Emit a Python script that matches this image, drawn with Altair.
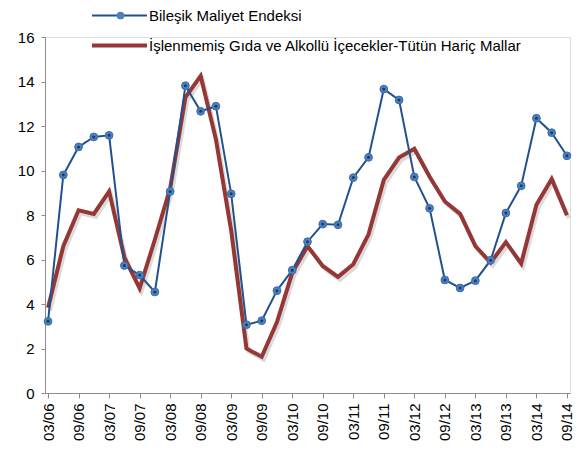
import altair as alt
import pandas as pd

quarters = ["03/06", "06/06", "09/06", "12/06", "03/07", "06/07", "09/07", "12/07",
            "03/08", "06/08", "09/08", "12/08", "03/09", "06/09", "09/09", "12/09",
            "03/10", "06/10", "09/10", "12/10", "03/11", "06/11", "09/11", "12/11",
            "03/12", "06/12", "09/12", "12/12", "03/13", "06/13", "09/13", "12/13",
            "03/14", "06/14", "09/14"]

bilesik = [3.22, 9.80, 11.06, 11.51, 11.58, 5.73, 5.30, 4.54, 9.06, 13.81, 12.66, 12.89,
           8.95, 3.07, 3.25, 4.60, 5.52, 6.80, 7.59, 7.56, 9.68, 10.59, 13.66, 13.17,
           9.71, 8.30, 5.08, 4.72, 5.05, 5.97, 8.09, 9.31, 12.35, 11.70, 10.66]

islenmemis = [3.83, 6.60, 8.21, 8.05, 9.06, 6.10, 4.70, 6.90, 9.20, 13.29, 14.25, 11.40,
              7.30, 2.00, 1.63, 3.19, 5.40, 6.60, 5.71, 5.22, 5.79, 7.13, 9.58, 10.58,
              10.98, 9.72, 8.61, 8.05, 6.60, 5.86, 6.78, 5.82, 8.46, 9.62, 7.99]

names = ["Bileşik Maliyet Endeksi",
         "İşlenmemiş Gıda ve Alkollü İçecekler-Tütün Hariç Mallar"]
colors = ["#23518f", "#953735"]
y_ticks = [0, 2, 4, 6, 8, 10, 12, 14, 16]

rows = []
for i, q in enumerate(quarters):
    rows.append({"idx": i, "q": q, "series": names[0], "value": bilesik[i]})
    rows.append({"idx": i, "q": q, "series": names[1], "value": islenmemis[i]})
df = pd.DataFrame(rows)

FONT = "Liberation Sans"
label_arr = "[" + ",".join("'" + q + "'" for q in quarters) + "]"

x_enc = alt.X("idx:Q",
              scale=alt.Scale(domain=[-0.2, len(quarters) - 1 + 0.2], nice=False, zero=False),
              axis=alt.Axis(values=list(range(0, len(quarters), 2)),
                            labelExpr=label_arr + "[datum.value]",
                            labelAngle=-90, title=None, grid=False,
                            tickSize=5, labelPadding=5, labelFontSize=15,
                            labelFont=FONT, labelColor="#000000",
                            domainColor="#8c8c8c", tickColor="#8c8c8c"))
y_enc = alt.Y("value:Q",
              scale=alt.Scale(domain=[0, 16], nice=False),
              axis=alt.Axis(values=y_ticks, title=None, grid=False,
                            tickSize=4, labelPadding=7, labelFontSize=15,
                            labelFont=FONT, labelColor="#000000",
                            domainColor="#8c8c8c", tickColor="#8c8c8c"))

LINE_PATH = "M-5,0H5"

def line_legend():
    return alt.Legend(orient="none", legendX=67, legendY=-29,
                      title=None, symbolType=LINE_PATH,
                      symbolSize=121, labelFontSize=15,
                      labelFont=FONT, labelColor="#000000",
                      labelOffset=22, rowPadding=13, padding=0,
                      labelLimit=600)

color_enc = alt.Color("series:N",
                      scale=alt.Scale(domain=names, range=colors),
                      legend=line_legend())
sw_enc = alt.StrokeWidth("series:N",
                         scale=alt.Scale(domain=names, range=[2, 4]),
                         legend=line_legend())

base = alt.Chart(df)

shadow = base.transform_filter(alt.datum.series == names[1]).mark_line(
    color="#000000", opacity=0.14, strokeWidth=4, xOffset=2, yOffset=3
).encode(x=x_enc, y=y_enc, order="idx:Q")

red_line = base.transform_filter(alt.datum.series == names[1]).mark_line(
    strokeJoin="miter"
).encode(x=x_enc, y=y_enc, color=color_enc, strokeWidth=sw_enc, order="idx:Q")

blue_line = base.transform_filter(alt.datum.series == names[0]).mark_line(
).encode(x=x_enc, y=y_enc, color=color_enc, strokeWidth=sw_enc, order="idx:Q")

blue_pts = base.transform_filter(alt.datum.series == names[0]).mark_point(
    filled=True, fill="#4f81bd", stroke="#3a6aa8", strokeWidth=1, opacity=1, size=60
).encode(x=x_enc, y=y_enc,
         shape=alt.Shape("series:N",
                         scale=alt.Scale(domain=[names[0]], range=["circle"]),
                         legend=alt.Legend(orient="none", legendX=68, legendY=-29,
                                           title=None, labelExpr="''",
                                           symbolSize=60, symbolFillColor="#4f81bd",
                                           symbolStrokeColor="#3a6aa8",
                                           labelFontSize=15, rowPadding=13,
                                           padding=0, labelOffset=0)))

blue_dots = base.transform_filter(alt.datum.series == names[0]).mark_point(
    filled=True, fill="#1b3a66", size=9, opacity=1
).encode(x=x_enc, y=y_enc)

chart = alt.layer(shadow, red_line, blue_line, blue_pts, blue_dots).properties(
    width=525, height=356,
    autosize=alt.AutoSizeParams(type="none"),
    padding={"left": 37, "top": 29, "right": 4, "bottom": 48},
).configure_view(stroke=None).configure(font=FONT)

chart.save("out.html", embed_options={"renderer": "svg", "actions": False})
